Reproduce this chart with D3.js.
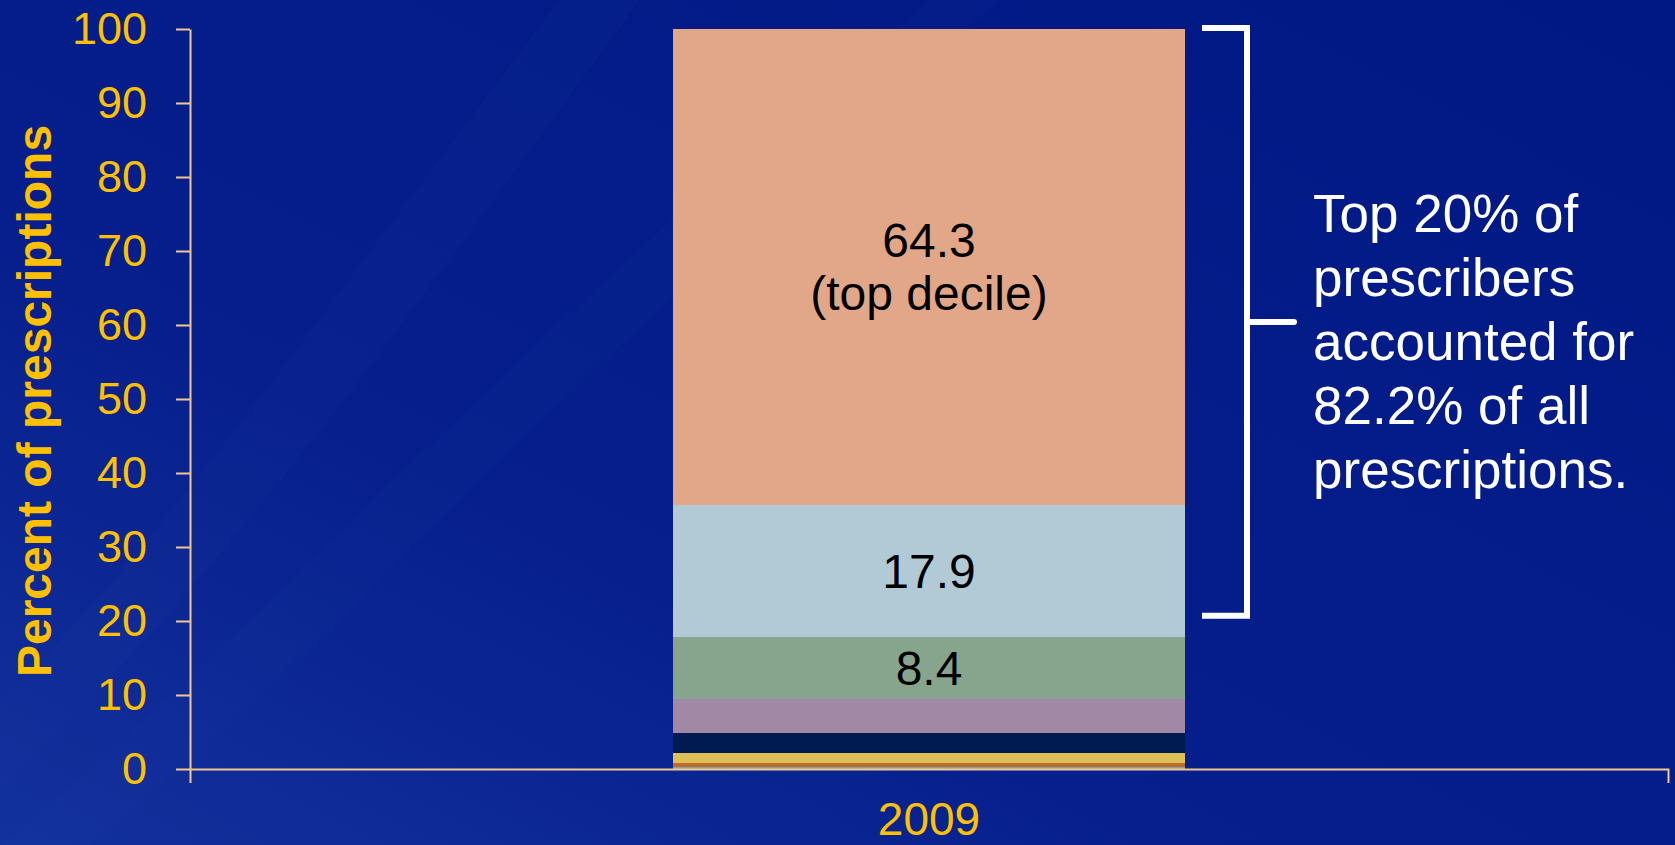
<!DOCTYPE html>
<html>
<head>
<meta charset="utf-8">
<script src="https://cdn.jsdelivr.net/npm/d3@7/dist/d3.min.js"></script>
<style>
  html, body { margin: 0; padding: 0; background: #031a86; overflow: hidden; }
  svg { display: block; }
  text { font-family: "Liberation Sans", Arial, sans-serif; }
</style>
</head>
<body>
<svg id="chart" width="1675" height="845"></svg>
<script>
// Share of all prescriptions written by each prescriber decile, 2009
const years = ["2009"];
const deciles = ["Decile 1", "Decile 2", "Decile 3", "Decile 4", "Decile 5", "Decile 6", "Decile 7", "Decile 8"];
const shares = [64.3, 17.9, 8.4, 4.6, 2.6, 1.4, 0.5, 0.3];
const segmentColors = ["#e2a789", "#b2cad6", "#87a58c", "#a189a6", "#001a52", "#ddc058", "#c06c25", "#7fa3b5"];
const segmentLabels = [["64.3", "(top decile)"], ["17.9"], ["8.4"], [], [], [], [], []];
const yTicks = [0, 10, 20, 30, 40, 50, 60, 70, 80, 90, 100];
const noteLines = ["Top 20% of", "prescribers", "accounted for", "82.2% of all", "prescriptions."];

const W = 1675, H = 845;
const margin = { left: 190, right: 7, top: 29, bottom: 76 };
const svg = d3.select("#chart");

// Slide background: deep blue with soft diagonal sheen
const defs = svg.append("defs");
const bg = defs.append("linearGradient").attr("id", "bg")
  .attr("x1", "0").attr("y1", "1").attr("x2", "1").attr("y2", "0");
bg.append("stop").attr("offset", "0").attr("stop-color", "#13319c");
bg.append("stop").attr("offset", "0.35").attr("stop-color", "#061f8c");
bg.append("stop").attr("offset", "1").attr("stop-color", "#001884");
svg.append("rect").attr("width", W).attr("height", H).attr("fill", "url(#bg)");
svg.append("path")
  .attr("d", "M0,700 C150,560 330,300 560,0 L640,0 C420,300 240,560 0,790 Z")
  .attr("fill", "#2a4bb0").attr("opacity", 0.07);
svg.append("path")
  .attr("d", "M0,845 C250,640 520,330 930,0 L1000,0 C600,340 330,650 90,845 Z")
  .attr("fill", "#2a4bb0").attr("opacity", 0.05);

const x = d3.scaleBand().domain(years)
  .range([margin.left, W - margin.right]).padding(0.485);
const y = d3.scaleLinear().domain([0, 100])
  .range([H - margin.bottom, margin.top]);

// Stack the decile shares bottom-up from the smallest
const rows = [];
let acc = 100;
shares.forEach((v, i) => {
  rows.push({ key: deciles[i], y0: acc - v, y1: acc, color: segmentColors[i], label: segmentLabels[i] });
  acc -= v;
});

const g = svg.append("g").attr("shape-rendering", "crispEdges");
g.selectAll("rect.seg").data(rows).join("rect")
  .attr("class", "seg")
  .attr("x", x("2009"))
  .attr("width", x.bandwidth())
  .attr("y", d => y(d.y1))
  .attr("height", d => y(d.y0) - y(d.y1))
  .attr("fill", d => d.color);

// Value labels centred in the larger segments
const lineH = 53;
svg.append("g").selectAll("text.val").data(rows.filter(d => d.label.length)).join("text")
  .attr("class", "val")
  .attr("x", x("2009") + x.bandwidth() / 2)
  .attr("y", d => (y(d.y0) + y(d.y1)) / 2 - (d.label.length - 1) * lineH / 2 + 17)
  .attr("text-anchor", "middle")
  .attr("font-size", 48)
  .attr("fill", "#000")
  .each(function(d) {
    d3.select(this).selectAll("tspan").data(d.label).join("tspan")
      .attr("x", x("2009") + x.bandwidth() / 2)
      .attr("dy", (t, i) => i === 0 ? 0 : lineH)
      .text(t => t);
  });

// Axes
const axisColor = "#f2c88f";
const yAxis = svg.append("g")
  .attr("transform", `translate(${margin.left},0)`)
  .call(d3.axisLeft(y).tickValues(yTicks).tickSizeInner(14).tickSizeOuter(0).tickPadding(29));
const xAxis = svg.append("g")
  .attr("transform", `translate(0,${y(0)})`)
  .call(d3.axisBottom(x).tickSizeInner(0).tickSizeOuter(14).tickPadding(33));
[yAxis, xAxis].forEach(a => {
  a.selectAll("path, line").attr("stroke", axisColor).attr("stroke-width", 2);
  a.selectAll("text").attr("fill", "#ffc000")
    .attr("font-family", "'Liberation Sans', Arial, sans-serif");
});
yAxis.selectAll("text").attr("font-size", 45);
xAxis.selectAll("text").attr("font-size", 46);

// Y axis title
svg.append("text")
  .attr("transform", `translate(51,${(y(0) + y(100)) / 2 + 2}) rotate(-90)`)
  .attr("text-anchor", "middle")
  .attr("font-size", 48)
  .attr("font-weight", "bold")
  .attr("fill", "#ffc000")
  .text("Percent of prescriptions");

// Bracket spanning the top two deciles
const bx0 = 1202, bx1 = 1247, bxTip = 1294;
const bTop = y(100) - 1, bBot = y(20.7);
const bMid = (bTop + bBot) / 2;
svg.append("path")
  .attr("d", `M${bx0},${bTop} H${bx1} V${bBot} H${bx0}`)
  .attr("fill", "none").attr("stroke", "#fff").attr("stroke-width", 6)
  .attr("stroke-linejoin", "miter");
svg.append("line")
  .attr("x1", bx1).attr("x2", bxTip).attr("y1", bMid).attr("y2", bMid)
  .attr("stroke", "#fff").attr("stroke-width", 6).attr("stroke-linecap", "round");

// Annotation
svg.append("g").selectAll("text").data(noteLines).join("text")
  .attr("x", 1313)
  .attr("y", (d, i) => 232 + i * 64)
  .attr("font-size", 53)
  .attr("fill", "#fff")
  .text(d => d);
</script>
</body>
</html>
